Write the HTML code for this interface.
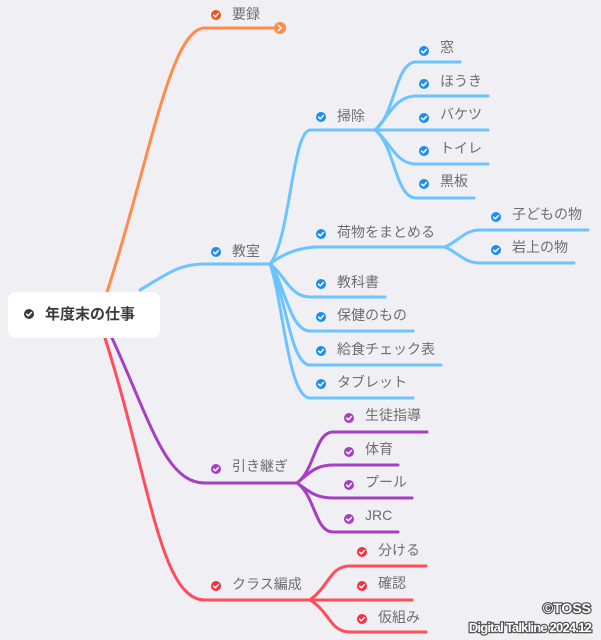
<!DOCTYPE html>
<html><head><meta charset="utf-8"><style>
html,body{margin:0;padding:0;background:#efeff4;}
svg{display:block}
text{font-family:"Liberation Sans","Noto Sans CJK JP",sans-serif;font-size:14px;fill:#6e6e72;}
</style></head><body>
<svg width="601" height="640" viewBox="0 0 601 640" xmlns="http://www.w3.org/2000/svg">
<rect width="601" height="640" fill="#efeff4"/>
<defs>
<symbol id="ck" viewBox="0 0 10 10"><path d="M2.6 5.2 L4.3 6.8 L7.4 3.5" fill="none" stroke="#fff" stroke-width="1.5" stroke-linecap="round" stroke-linejoin="round"/></symbol>
</defs>
<g fill="none" stroke-width="3" stroke-linecap="round">
<path d="M107 292 C150 160,170 28,205 28 H278" stroke="#ff8c4a"/>
<g stroke="#6cc4ff">
<path d="M140 290 C170 272,180 264,205 264 H270"/>
<path d="M270 264 C290 240,292 132,310 130 H375"/>
<path d="M270 264 C285 252,300 248,315 247 H445"/>
<path d="M270 264 C285 275,290 297,310 297 H385"/>
<path d="M270 264 C285 285,290 331,310 331 H413"/>
<path d="M270 264 C285 290,290 365,310 365 H441"/>
<path d="M270 264 C283 300,288 398,310 398 H413"/>
<path d="M375 130 C395 115,395 64,415 62 H460"/>
<path d="M375 130 C390 115,395 97,415 96 H488"/>
<path d="M375 130 H488"/>
<path d="M375 130 C390 141,395 163,415 164 H488"/>
<path d="M375 130 C395 146,395 196,415 198 H474"/>
<path d="M445 247 C460 240,465 230,480 230 H588"/>
<path d="M445 247 C460 254,465 263,480 263 H574"/>
</g>
<g stroke="#a63fc2">
<path d="M112 338 C150 420,165 483,205 483 H297"/>
<path d="M297 483 C315 470,315 432,333 432 H427"/>
<path d="M297 483 C312 470,318 465,333 465 H398"/>
<path d="M297 483 C312 494,318 498,333 498 H412"/>
<path d="M297 483 C315 495,315 532,333 532 H398"/>
</g>
<g stroke="#ff4d5c">
<path d="M105 338 C150 480,160 600,205 600 H310"/>
<path d="M310 600 C330 585,330 566,350 566 H426"/>
<path d="M310 600 H412"/>
<path d="M310 600 C330 612,330 632,350 632 H426"/>
</g>
</g>
<circle cx="280" cy="28" r="6" fill="#ff8c4a"/>
<path d="M278 25 L281 28 L278 31" fill="none" stroke="#fff" stroke-width="1.5"/>
<rect x="8" y="292" width="152" height="46" rx="7" fill="#fff"/>
<circle cx="29" cy="314" r="5" fill="#3a3a3c"/><use href="#ck" x="24" y="309" width="10" height="10"/>
<text x="45" y="319" style="font-size:15px;font-weight:bold;fill:#3a3a3c">年度末の仕事</text>
<g>
<circle cx="216" cy="15" r="5" fill="#f0541c"/><use href="#ck" x="211" y="10" width="10" height="10"/><text x="232" y="19">要録</text>
<circle cx="216" cy="252" r="5" fill="#1b8ff0"/><use href="#ck" x="211" y="247" width="10" height="10"/><text x="232" y="256">教室</text>
<circle cx="321" cy="117" r="5" fill="#1b8ff0"/><use href="#ck" x="316" y="112" width="10" height="10"/><text x="337" y="121">掃除</text>
<circle cx="424" cy="51" r="5" fill="#1b8ff0"/><use href="#ck" x="419" y="46" width="10" height="10"/><text x="440" y="52">窓</text>
<circle cx="424" cy="84" r="5" fill="#1b8ff0"/><use href="#ck" x="419" y="79" width="10" height="10"/><text x="440" y="86">ほうき</text>
<circle cx="424" cy="118" r="5" fill="#1b8ff0"/><use href="#ck" x="419" y="113" width="10" height="10"/><text x="440" y="119">バケツ</text>
<circle cx="424" cy="151" r="5" fill="#1b8ff0"/><use href="#ck" x="419" y="146" width="10" height="10"/><text x="440" y="153">トイレ</text>
<circle cx="424" cy="184" r="5" fill="#1b8ff0"/><use href="#ck" x="419" y="179" width="10" height="10"/><text x="440" y="186">黒板</text>
<circle cx="321" cy="234" r="5" fill="#1b8ff0"/><use href="#ck" x="316" y="229" width="10" height="10"/><text x="337" y="237">荷物をまとめる</text>
<circle cx="496" cy="217" r="5" fill="#1b8ff0"/><use href="#ck" x="491" y="212" width="10" height="10"/><text x="512" y="219">子どもの物</text>
<circle cx="496" cy="250" r="5" fill="#1b8ff0"/><use href="#ck" x="491" y="245" width="10" height="10"/><text x="512" y="252">岩上の物</text>
<circle cx="321" cy="284" r="5" fill="#1b8ff0"/><use href="#ck" x="316" y="279" width="10" height="10"/><text x="337" y="287">教科書</text>
<circle cx="321" cy="317" r="5" fill="#1b8ff0"/><use href="#ck" x="316" y="312" width="10" height="10"/><text x="337" y="320">保健のもの</text>
<circle cx="321" cy="351" r="5" fill="#1b8ff0"/><use href="#ck" x="316" y="346" width="10" height="10"/><text x="337" y="354">給食チェック表</text>
<circle cx="321" cy="384" r="5" fill="#1b8ff0"/><use href="#ck" x="316" y="379" width="10" height="10"/><text x="337" y="387">タブレット</text>
<circle cx="216" cy="469" r="5" fill="#a63fc2"/><use href="#ck" x="211" y="464" width="10" height="10"/><text x="232" y="471">引き継ぎ</text>
<circle cx="349" cy="418" r="5" fill="#a63fc2"/><use href="#ck" x="344" y="413" width="10" height="10"/><text x="365" y="420">生徒指導</text>
<circle cx="349" cy="452" r="5" fill="#a63fc2"/><use href="#ck" x="344" y="447" width="10" height="10"/><text x="365" y="454">体育</text>
<circle cx="349" cy="485" r="5" fill="#a63fc2"/><use href="#ck" x="344" y="480" width="10" height="10"/><text x="365" y="487">プール</text>
<circle cx="349" cy="519" r="5" fill="#a63fc2"/><use href="#ck" x="344" y="514" width="10" height="10"/><text x="365" y="520">JRC</text>
<circle cx="216" cy="586" r="5" fill="#ff2b3e"/><use href="#ck" x="211" y="581" width="10" height="10"/><text x="232" y="589">クラス編成</text>
<circle cx="362" cy="552" r="5" fill="#ff2b3e"/><use href="#ck" x="357" y="547" width="10" height="10"/><text x="378" y="555">分ける</text>
<circle cx="362" cy="586" r="5" fill="#ff2b3e"/><use href="#ck" x="357" y="581" width="10" height="10"/><text x="378" y="588">確認</text>
<circle cx="362" cy="619" r="5" fill="#ff2b3e"/><use href="#ck" x="357" y="614" width="10" height="10"/><text x="378" y="622">仮組み</text>
</g>
<g style="paint-order:stroke">
<text x="591" y="613" text-anchor="end" style="font-size:14px;fill:#fff;stroke:#555;stroke-width:2.5px;font-weight:bold">©TOSS</text>
<text x="591" y="632" text-anchor="end" style="font-size:13px;fill:#fff;stroke:#555;stroke-width:2.5px;font-weight:bold;letter-spacing:-0.8px">Digital Talkline 2024.12</text>
</g>
</svg>
</body></html>
